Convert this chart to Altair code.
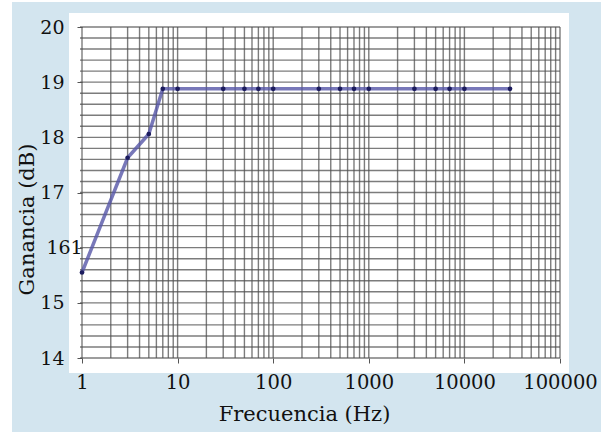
import altair as alt
import pandas as pd

# data
freq = [1, 3, 5, 7, 10, 30, 50, 70, 100, 300, 500, 700, 1000, 3000, 5000, 7000, 10000, 30000]
gain = [15.55, 17.63, 18.06, 18.88, 18.88, 18.88, 18.88, 18.88, 18.88, 18.88, 18.88, 18.88,
        18.88, 18.88, 18.88, 18.88, 18.88, 18.88]

x_ticks = [1, 10, 100, 1000, 10000, 100000]
y_ticks = [14, 15, 16, 17, 18, 19, 20]
v_grid = [m * d for d in [1, 10, 100, 1000, 10000] for m in range(1, 10)] + [100000]
h_grid = [14.0, 14.2, 14.4, 14.6, 14.8, 15.0, 15.2, 15.4, 15.6, 15.8, 16.0, 16.2, 16.4, 16.6,
          16.8, 17.0, 17.2, 17.4, 17.6, 17.8, 18.0, 18.2, 18.4, 18.6, 18.8, 19.0, 19.2, 19.4,
          19.6, 19.8, 20.0]

W, H = 478, 331
FONT = "DejaVu Serif"

df = pd.DataFrame({"f": freq, "g": gain})
xs = alt.Scale(type="log", domain=[1, 100000], nice=False)
ys = alt.Scale(domain=[14, 20], nice=False, zero=False)

x_axis = alt.Axis(values=x_ticks, format="d", grid=False, domain=False, zindex=1,
                  ticks=True, tickSize=5, tickColor="#555", labelPadding=10,
                  labelFont=FONT, labelFontSize=19.5, labelColor="#111",
                  labelFontWeight="normal", labelFlush=False,
                  titleFont=FONT, titleFontSize=21, titleFontWeight="normal",
                  titleColor="#111", titleX=222, titleY=56, titleBaseline="middle")
y_axis = alt.Axis(values=y_ticks, grid=False, domain=False, ticks=True, tickSize=5, zindex=1,
                  tickColor="#555", labelPadding=13,
                  labelExpr="datum.value == 16 ? '161' : datum.label",
                  labelAlign={"condition": {"test": "datum.value == 16", "value": "center"},
                              "value": "right"},
                  labelFont=FONT, labelFontSize=19, labelColor="#111",
                  labelFlush=False,
                  titleFont=FONT, titleFontSize=21, titleFontWeight="normal",
                  titleColor="#111", titleX=-55, titleY=192, titleAngle=270,
                  titleBaseline="middle", titleAlign="center")

blue = alt.Chart(pd.DataFrame({"a": [0]})).mark_rect(color="#d3e5ef").encode(
    x=alt.value(-70), x2=alt.value(W + 41), y=alt.value(-25), y2=alt.value(H + 74))
white = alt.Chart(pd.DataFrame({"a": [0]})).mark_rect(color="#ffffff").encode(
    x=alt.value(-13), x2=alt.value(W + 9), y=alt.value(-14), y2=alt.value(H + 15))

vg = alt.Chart(pd.DataFrame({"f": v_grid})).mark_rule(color="#505050", strokeWidth=1.4, opacity=0.75).encode(
    x=alt.X("f:Q", scale=xs, axis=x_axis, title="Frecuencia (Hz)"), y=alt.value(0), y2=alt.value(H))
hg = alt.Chart(pd.DataFrame({"g": h_grid})).mark_rule(color="#505050", strokeWidth=1.4, opacity=0.75).encode(
    y=alt.Y("g:Q", scale=ys, axis=y_axis, title="Ganancia (dB)"), x=alt.value(-2), x2=alt.value(W))

base = alt.Chart(df).encode(
    x=alt.X("f:Q", scale=xs, title="Frecuencia (Hz)", axis=x_axis),
    y=alt.Y("g:Q", scale=ys, title="Ganancia (dB)", axis=y_axis),
)
line = base.mark_line(color="#5656a8", strokeWidth=3.5, opacity=0.8)
pts = base.mark_point(filled=True, color="#1c1c5e", size=22, opacity=1)

chart = alt.layer(blue, white, vg, hg, line, pts).properties(
    width=W, height=H, background="#ffffff",
    padding={"left": 82, "top": 27, "right": 50, "bottom": 76},
    autosize=alt.AutoSizeParams(type="none"),
).configure_view(stroke=None)

chart.save("out.html", embed_options={"renderer": "svg", "actions": False})
